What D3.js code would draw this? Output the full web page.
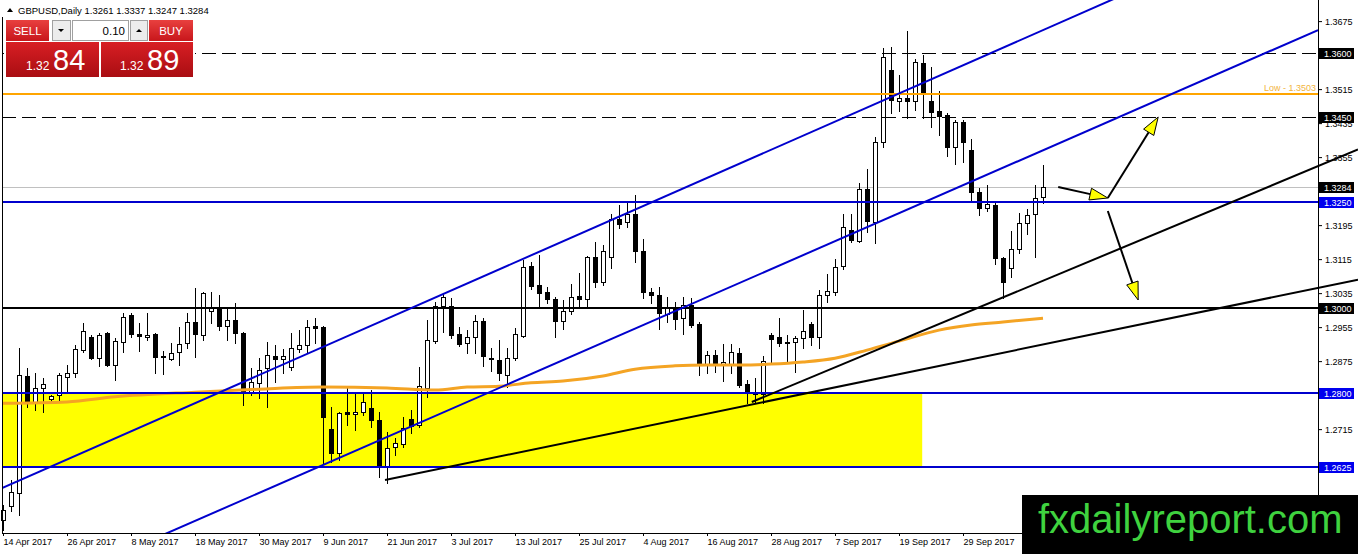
<!DOCTYPE html>
<html>
<head>
<meta charset="utf-8">
<script src="https://cdnjs.cloudflare.com/ajax/libs/d3/7.8.5/d3.min.js"></script>
<style>
  body { margin: 0; background: #fff; overflow: hidden; }
  svg { display: block; font-family: "Liberation Sans", Arial, sans-serif; }
</style>
</head>
<body>
<script>
// GBPUSD daily bars, 14 Apr 2017 .. 13 Oct 2017 (one per weekday)
var opens = [
  1.2501, 1.2534, 1.2565, 1.2840, 1.2779, 1.2812, 1.2786, 1.2795, 1.2838, 1.2847,
  1.2901, 1.2932, 1.2882, 1.2941, 1.2866, 1.2920, 1.2984, 1.2939, 1.2932, 1.2939,
  1.2887, 1.2880, 1.2896, 1.2918, 1.2967, 1.2936, 1.2993, 1.3000, 1.2958, 1.2972,
  1.2941, 1.2802, 1.2824, 1.2859, 1.2887, 1.2880, 1.2861, 1.2904, 1.2913, 1.2958,
  1.2955, 1.2715, 1.2659, 1.2755, 1.2751, 1.2755, 1.2765, 1.2737, 1.2626, 1.2673,
  1.2680, 1.2739, 1.2725, 1.2812, 1.2922, 1.3005, 1.3005, 1.2939, 1.2918, 1.2932,
  1.2969, 1.2882, 1.2878, 1.2842, 1.2882, 1.2934, 1.3099, 1.3054, 1.3038, 1.3021,
  1.2969, 1.2993, 1.3028, 1.3021, 1.3120, 1.3061, 1.3120, 1.3209, 1.3202, 1.3221,
  1.3134, 1.3038, 1.3031, 1.2986, 1.3000, 1.2976, 1.3007, 1.2962, 1.2868, 1.2889,
  1.2868, 1.2868, 1.2894, 1.2821, 1.2800, 1.2798, 1.2936, 1.2932, 1.2920, 1.2920,
  1.2929, 1.2962, 1.2932, 1.3031, 1.3038, 1.3099, 1.3184, 1.3158, 1.3280, 1.3202,
  1.3391, 1.3560, 1.3487, 1.3494, 1.3487, 1.3576, 1.3487, 1.3464, 1.3454, 1.3379,
  1.3438, 1.3372, 1.3273, 1.3235, 1.3242, 1.3118, 1.3094, 1.3139, 1.3200, 1.3221,
  1.3261
];
var highs = [
  1.2536, 1.2595, 1.2906, 1.2859, 1.2847, 1.2835, 1.2795, 1.2847, 1.2866, 1.2913,
  1.2965, 1.2936, 1.2941, 1.2944, 1.2929, 1.2988, 1.2988, 1.2965, 1.2988, 1.2941,
  1.2899, 1.2918, 1.2955, 1.2988, 1.3047, 1.3038, 1.3038, 1.3031, 1.3000, 1.3012,
  1.2944, 1.2859, 1.2882, 1.2920, 1.2913, 1.2904, 1.2941, 1.2948, 1.2972, 1.2976,
  1.2957, 1.2767, 1.2755, 1.2814, 1.2802, 1.2802, 1.2807, 1.2755, 1.2708, 1.2694,
  1.2744, 1.2760, 1.2861, 1.2972, 1.3014, 1.3035, 1.3024, 1.2955, 1.2948, 1.2984,
  1.2976, 1.2906, 1.2925, 1.2906, 1.2953, 1.3113, 1.3108, 1.3125, 1.3049, 1.3026,
  1.3019, 1.3056, 1.3082, 1.3122, 1.3155, 1.3148, 1.3221, 1.3242, 1.3247, 1.3266,
  1.3162, 1.3047, 1.3049, 1.3026, 1.3014, 1.3026, 1.3024, 1.2967, 1.2899, 1.2901,
  1.2915, 1.2915, 1.2906, 1.2831, 1.2835, 1.2887, 1.2941, 1.2976, 1.2936, 1.2934,
  1.2995, 1.2967, 1.3042, 1.3080, 1.3115, 1.3221, 1.3221, 1.3294, 1.3327, 1.3402,
  1.3612, 1.3614, 1.3548, 1.3652, 1.3586, 1.3595, 1.3567, 1.3511, 1.3459, 1.3442,
  1.3442, 1.3398, 1.3282, 1.3289, 1.3247, 1.3120, 1.3181, 1.3224, 1.3233, 1.3289,
  1.3337
];
var lows = [
  1.2478, 1.2522, 1.2513, 1.2767, 1.2760, 1.2755, 1.2776, 1.2779, 1.2802, 1.2838,
  1.2896, 1.2880, 1.2864, 1.2864, 1.2831, 1.2896, 1.2932, 1.2899, 1.2925, 1.2847,
  1.2845, 1.2878, 1.2866, 1.2906, 1.2885, 1.2925, 1.2965, 1.2948, 1.2925, 1.2918,
  1.2772, 1.2795, 1.2788, 1.2767, 1.2826, 1.2847, 1.2854, 1.2896, 1.2894, 1.2918,
  1.2635, 1.2638, 1.2642, 1.2725, 1.2713, 1.2748, 1.2720, 1.2602, 1.2588, 1.2654,
  1.2673, 1.2706, 1.2720, 1.2791, 1.2918, 1.2944, 1.2929, 1.2911, 1.2894, 1.2894,
  1.2864, 1.2852, 1.2831, 1.2814, 1.2878, 1.2932, 1.3045, 1.3002, 1.3012, 1.2932,
  1.2951, 1.2986, 1.3005, 1.3002, 1.3049, 1.3054, 1.3094, 1.3188, 1.3191, 1.3108,
  1.3024, 1.3012, 1.2951, 1.2967, 1.2951, 1.2939, 1.2955, 1.2842, 1.2847, 1.2849,
  1.2828, 1.2847, 1.2814, 1.2776, 1.2776, 1.2776, 1.2871, 1.2911, 1.2875, 1.2849,
  1.2906, 1.2913, 1.2906, 1.3014, 1.3031, 1.3092, 1.3155, 1.3155, 1.3179, 1.3153,
  1.3379, 1.3459, 1.3464, 1.3447, 1.3466, 1.3447, 1.3426, 1.3407, 1.3358, 1.3339,
  1.3344, 1.3249, 1.3219, 1.3228, 1.3104, 1.3024, 1.3073, 1.3129, 1.3174, 1.3120,
  1.3247
];
var closes = [
  1.2525, 1.2567, 1.2842, 1.2779, 1.2812, 1.2821, 1.2793, 1.2842, 1.2847, 1.2904,
  1.2946, 1.2882, 1.2936, 1.2866, 1.2922, 1.2979, 1.2939, 1.2934, 1.2936, 1.2885,
  1.2885, 1.2894, 1.2915, 1.2967, 1.2939, 1.3035, 1.3000, 1.2958, 1.2972, 1.2941,
  1.2800, 1.2826, 1.2854, 1.2889, 1.2880, 1.2887, 1.2906, 1.2913, 1.2955, 1.2953,
  1.2744, 1.2659, 1.2753, 1.2751, 1.2755, 1.2779, 1.2737, 1.2626, 1.2671, 1.2682,
  1.2718, 1.2722, 1.2816, 1.2925, 1.3005, 1.3026, 1.2936, 1.2915, 1.2932, 1.2969,
  1.2887, 1.2880, 1.2847, 1.2882, 1.2939, 1.3096, 1.3052, 1.3035, 1.3021, 1.2969,
  1.2993, 1.3026, 1.3021, 1.3120, 1.3061, 1.3134, 1.3209, 1.3198, 1.3221, 1.3134,
  1.3038, 1.3031, 1.2988, 1.3000, 1.2974, 1.3007, 1.2960, 1.2868, 1.2889, 1.2871,
  1.2873, 1.2896, 1.2819, 1.2800, 1.2798, 1.2875, 1.2927, 1.2918, 1.2918, 1.2929,
  1.2946, 1.2932, 1.3031, 1.3040, 1.3096, 1.3191, 1.3160, 1.3280, 1.3205, 1.3391,
  1.3591, 1.3489, 1.3494, 1.3487, 1.3579, 1.3504, 1.3461, 1.3452, 1.3379, 1.3438,
  1.3391, 1.3273, 1.3235, 1.3245, 1.3118, 1.3061, 1.3139, 1.3200, 1.3219, 1.3259,
  1.3284
];

// orange moving average, read at a handful of bars
var maBars   = [0, 8, 14, 24, 32, 40, 48, 54, 58, 62, 66, 70, 75, 79, 84, 88, 92, 96, 100, 104, 108, 112, 117, 121, 125, 130];
var maValues = [1.2776, 1.2779, 1.2791, 1.2802, 1.2809, 1.2814, 1.2812, 1.2807, 1.2814, 1.2816, 1.2824, 1.2828, 1.2840,
                1.2856, 1.2864, 1.2866, 1.2866, 1.2868, 1.2873, 1.2882, 1.2901, 1.2922, 1.2948, 1.2960, 1.2967, 1.2976];

// axes
var tickBars = [0, 8, 16, 24, 32, 40, 48, 56, 64, 72, 80, 88, 96, 104, 112, 120, 128];
var tickLabels = ['14 Apr 2017', '26 Apr 2017', '8 May 2017', '18 May 2017', '30 May 2017', '9 Jun 2017',
                  '21 Jun 2017', '3 Jul 2017', '13 Jul 2017', '25 Jul 2017', '4 Aug 2017', '16 Aug 2017',
                  '28 Aug 2017', '7 Sep 2017', '19 Sep 2017', '29 Sep 2017', '11 Oct 2017'];
var priceTicks = [1.2555, 1.2635, 1.2715, 1.2795, 1.2875, 1.2955, 1.3035, 1.3115, 1.3195, 1.3275,
                  1.3355, 1.3435, 1.3515, 1.3595, 1.3675];

// drawn objects, in (bar, price)
var blueLevels = [1.3250, 1.2800, 1.2625];
var dashedLevels = [1.3600, 1.3450];
var blackLevel = 1.3000;
var lowLevel = 1.3503;
var lastPrice = 1.3284;
var zoneBars = [0, 114.9];
var zonePrices = [1.2800, 1.2625];
var channelUpper = [[0, 1.25772], [130, 1.36539]];
var channelLower = [[0, 1.23016], [130, 1.33711]];
var trendSteep = [[93.6, 1.27788], [130, 1.30642]];
var trendFlat = [[47.75, 1.25953], [130, 1.29141]];
var arrowStarts = [[131.9, 1.32847], [138.1, 1.32588], [138.1, 1.32282]];
var arrowEnds   = [[138.1, 1.32588], [144.4, 1.34494], [141.9, 1.30188]];

var symbolTitle = 'GBPUSD,Daily';
var lastOHLC = [1.3261, 1.3337, 1.3247, 1.3284];
var lotSize = '0.10';
var sellQuote = ['1.32', '84'];
var buyQuote = ['1.32', '89'];
var watermark = 'fxdailyreport.com';

var width = 1358, height = 554;
var plotLeft = 2, plotRight = 1318, plotBottom = 533;
var markLeft = 1022, markTop = 495;
var blue = '#0000cd';

var svg = d3.select('body').append('svg')
  .attr('width', width)
  .attr('height', height);

var x = d3.scaleLinear().domain([0, 130]).range([3, 1043]);
var y = d3.scaleLinear().domain([1.24706, 1.37247]).range([plotBottom, 0]);

var defs = svg.append('defs');
defs.append('clipPath').attr('id', 'plot')
  .append('rect')
  .attr('x', plotLeft).attr('y', 0)
  .attr('width', plotRight - plotLeft).attr('height', plotBottom);

var addGradient = function(id, top, bottom) {
  var g = defs.append('linearGradient').attr('id', id)
    .attr('x1', 0).attr('y1', 0).attr('x2', 0).attr('y2', 1);
  g.append('stop').attr('offset', '0%').attr('stop-color', top);
  g.append('stop').attr('offset', '100%').attr('stop-color', bottom);
};
addGradient('btnRed', '#e8403f', '#c8161b');
addGradient('panelRed', '#d81f24', '#a90d12');

var py = function(p) { return Math.round(y(p)) + 0.5; };

// yellow zone behind everything
svg.append('rect')
  .attr('x', x(zoneBars[0]))
  .attr('y', y(zonePrices[0]))
  .attr('width', x(zoneBars[1]) - x(zoneBars[0]))
  .attr('height', y(zonePrices[1]) - y(zonePrices[0]))
  .style('fill', '#ffff00');

// current price line
svg.append('line')
  .attr('x1', plotLeft).attr('x2', plotRight)
  .attr('y1', py(lastPrice)).attr('y2', py(lastPrice))
  .style('stroke', '#c0c0c0');

// candles
var bars = d3.range(opens.length).map(function(i) {
  return { i: i, o: opens[i], h: highs[i], l: lows[i], c: closes[i] };
});
var candles = svg.append('g');
candles.selectAll('line').data(bars).enter().append('line')
  .attr('x1', function(d) { return Math.round(x(d.i)) + 0.5; })
  .attr('x2', function(d) { return Math.round(x(d.i)) + 0.5; })
  .attr('y1', function(d) { return Math.round(y(d.h)); })
  .attr('y2', function(d) { return Math.round(y(d.l)) + 1; })
  .style('stroke', '#000');
candles.selectAll('rect').data(bars).enter().append('rect')
  .attr('x', function(d) { return Math.round(x(d.i)) - 1.5; })
  .attr('y', function(d) { return Math.round(y(Math.max(d.o, d.c))) + 0.5; })
  .attr('width', 4)
  .attr('height', function(d) {
    return Math.max(Math.round(y(Math.min(d.o, d.c))) - Math.round(y(Math.max(d.o, d.c))), 1);
  })
  .style('fill', function(d) { return d.c >= d.o ? '#fff' : '#000'; })
  .style('stroke', '#000');

// moving average
var maLine = d3.line()
  .x(function(d) { return x(d[0]); })
  .y(function(d) { return y(d[1]); })
  .curve(d3.curveMonotoneX);
svg.append('path')
  .attr('d', maLine(d3.zip(maBars, maValues)))
  .style('fill', 'none')
  .style('stroke', '#f4a424')
  .style('stroke-width', 3);

// horizontal levels
var hLine = function(p, color, w, dash) {
  var ly = w % 2 ? py(p) : Math.round(y(p));
  var l = svg.append('line')
    .attr('x1', plotLeft).attr('x2', plotRight)
    .attr('y1', ly).attr('y2', ly)
    .style('stroke', color)
    .style('stroke-width', w);
  if (dash) { l.style('stroke-dasharray', dash); }
};
dashedLevels.forEach(function(p) { hLine(p, '#000', 1, '14,6'); });
hLine(lowLevel, '#ffa500', 2);
blueLevels.forEach(function(p) { hLine(p, blue, 2); });
hLine(blackLevel, '#000', 2);

svg.append('text')
  .attr('x', 1316).attr('y', y(lowLevel) - 3)
  .attr('text-anchor', 'end')
  .style('font-size', '9px')
  .style('fill', '#f2b440')
  .text('Low - ' + lowLevel.toFixed(4));

// sloped lines through two (bar, price) points, extended to xEnd
var rayPoints = function(pts, xStart, xEnd) {
  var x1 = x(pts[0][0]), y1 = y(pts[0][1]);
  var x2 = x(pts[1][0]), y2 = y(pts[1][1]);
  var k = (y2 - y1) / (x2 - x1);
  var xa = xStart === null ? x1 : xStart;
  return [[xa, y1 + k * (xa - x1)], [xEnd, y1 + k * (xEnd - x1)]];
};
var drawRay = function(pts, xStart, xEnd, color, clip) {
  var r = rayPoints(pts, xStart, xEnd);
  var l = svg.append('line')
    .attr('x1', r[0][0]).attr('y1', r[0][1])
    .attr('x2', r[1][0]).attr('y2', r[1][1])
    .style('stroke', color)
    .style('stroke-width', 2);
  if (clip) { l.attr('clip-path', 'url(#plot)'); }
};
drawRay(channelUpper, plotLeft, plotRight, blue, true);
drawRay(channelLower, plotLeft, plotRight, blue, true);
drawRay(trendSteep, null, width, '#000', false);
drawRay(trendFlat, null, width, '#000', false);

// arrows with yellow heads
d3.zip(arrowStarts, arrowEnds).forEach(function(a) {
  var sx = x(a[0][0]), sy = y(a[0][1]);
  var ex = x(a[1][0]), ey = y(a[1][1]);
  var len = Math.sqrt((ex - sx) * (ex - sx) + (ey - sy) * (ey - sy));
  var ux = (ex - sx) / len, uy = (ey - sy) / len;
  var hl = 18, hw = 6;
  var bx = ex - ux * hl, by = ey - uy * hl;
  svg.append('line')
    .attr('x1', sx).attr('y1', sy).attr('x2', bx).attr('y2', by)
    .style('stroke', '#000').style('stroke-width', 2);
  svg.append('polygon')
    .attr('points', [[ex, ey], [bx - uy * hw, by + ux * hw], [bx + uy * hw, by - ux * hw]].join(' '))
    .style('fill', '#ffff00')
    .style('stroke', '#000')
    .style('stroke-width', 1);
});

// frame
svg.append('line')
  .attr('x1', plotLeft + 0.5).attr('x2', plotLeft + 0.5)
  .attr('y1', 17).attr('y2', plotBottom)
  .style('stroke', '#000');
svg.append('line')
  .attr('x1', plotLeft).attr('x2', plotRight)
  .attr('y1', plotBottom + 0.5).attr('y2', plotBottom + 0.5)
  .style('stroke', '#000');
svg.append('line')
  .attr('x1', plotRight + 0.5).attr('x2', plotRight + 0.5)
  .attr('y1', 0).attr('y2', height)
  .style('stroke', '#000');

// price tags sit on the axis; ticks they (or the watermark) cover are not labelled
var blackTags = dashedLevels.concat([lastPrice, blackLevel]);
var allTags = blackTags.concat(blueLevels);
var shownTicks = priceTicks.filter(function(t) {
  return y(t) < markTop - 5 &&
    allTags.every(function(p) { return Math.abs(y(t) - y(p)) > 5; });
});
var shownBars = tickBars.filter(function(b) { return x(b) + 50 < markLeft; });

// price axis
var yAxis = svg.append('g')
  .attr('transform', 'translate(' + plotRight + ',0)')
  .call(d3.axisRight(y).tickValues(shownTicks).tickSize(4).tickFormat(d3.format('.4f')));
yAxis.select('.domain').remove();
yAxis.selectAll('text').style('font-size', '9px').style('font-family', '"Liberation Sans", Arial, sans-serif');

// date axis
var xAxis = svg.append('g')
  .attr('transform', 'translate(0,' + plotBottom + ')')
  .call(d3.axisBottom(x).tickValues(shownBars).tickSize(3)
    .tickFormat(function(d) { return tickLabels[tickBars.indexOf(d)]; }));
xAxis.select('.domain').remove();
xAxis.selectAll('text')
  .attr('text-anchor', 'start')
  .attr('x', 0)
  .style('font-size', '9px')
  .style('font-family', '"Liberation Sans", Arial, sans-serif');

var tag = function(p, color) {
  var cy = Math.round(y(p));
  svg.append('rect')
    .attr('x', plotRight + 1).attr('y', cy - 5)
    .attr('width', 35).attr('height', 11)
    .style('fill', color);
  svg.append('text')
    .attr('x', plotRight + 6).attr('y', cy + 4)
    .style('font-size', '9px')
    .style('fill', '#fff')
    .text(p.toFixed(4));
};
blackTags.forEach(function(p) { tag(p, '#000'); });
blueLevels.forEach(function(p) { tag(p, '#0000ee'); });

// header
svg.append('path')
  .attr('d', 'M7,12 L10,8 L13,12 Z')
  .style('fill', '#000');
svg.append('text')
  .attr('x', 18).attr('y', 14)
  .style('font-size', '9.5px')
  .style('fill', '#000')
  .text(symbolTitle + '  ' + lastOHLC.map(function(v) { return v.toFixed(4); }).join(' '));

// one-click trading panel
var panel = svg.append('g');
panel.append('rect').attr('x', 4).attr('y', 18).attr('width', 191).attr('height', 61).style('fill', '#fff');
panel.append('rect').attr('x', 6).attr('y', 20).attr('width', 43).attr('height', 21).style('fill', 'url(#btnRed)');
panel.append('rect').attr('x', 149).attr('y', 20).attr('width', 44).attr('height', 21).style('fill', 'url(#btnRed)');
panel.append('rect').attr('x', 52.5).attr('y', 20.5).attr('width', 18).attr('height', 20)
  .style('fill', '#ececec').style('stroke', '#a0a0a0');
panel.append('rect').attr('x', 72.5).attr('y', 20.5).attr('width', 56).attr('height', 20)
  .style('fill', '#fff').style('stroke', '#a0a0a0');
panel.append('rect').attr('x', 130.5).attr('y', 20.5).attr('width', 17).attr('height', 20)
  .style('fill', '#ececec').style('stroke', '#a0a0a0');
panel.append('path').attr('d', 'M58,29 L64,29 L61,32 Z').style('fill', '#000');
panel.append('path').attr('d', 'M136,32 L142,32 L139,29 Z').style('fill', '#000');
panel.append('rect').attr('x', 6).attr('y', 42).attr('width', 93).attr('height', 35).style('fill', 'url(#panelRed)');
panel.append('rect').attr('x', 101).attr('y', 42).attr('width', 92).attr('height', 35).style('fill', 'url(#panelRed)');

var ptext = function(tx, ty, size, color, anchor, str) {
  panel.append('text')
    .attr('x', tx).attr('y', ty)
    .attr('text-anchor', anchor)
    .style('font-size', size + 'px')
    .style('fill', color)
    .text(str);
};
ptext(27.5, 35, 11.5, '#fff', 'middle', 'SELL');
ptext(171, 35, 11.5, '#fff', 'middle', 'BUY');
ptext(125, 35, 11.5, '#000', 'end', lotSize);
ptext(26, 70, 12, '#fff', 'start', sellQuote[0]);
ptext(53, 70, 29, '#fff', 'start', sellQuote[1]);
ptext(120, 70, 12, '#fff', 'start', buyQuote[0]);
ptext(147, 70, 29, '#fff', 'start', buyQuote[1]);

// watermark
svg.append('rect')
  .attr('x', markLeft).attr('y', markTop)
  .attr('width', width - markLeft).attr('height', height - markTop)
  .style('fill', '#000');
svg.append('text')
  .attr('x', 1038).attr('y', 533)
  .style('font-size', '40px')
  .style('fill', '#3fd23f')
  .text(watermark);
</script>
</body>
</html>
